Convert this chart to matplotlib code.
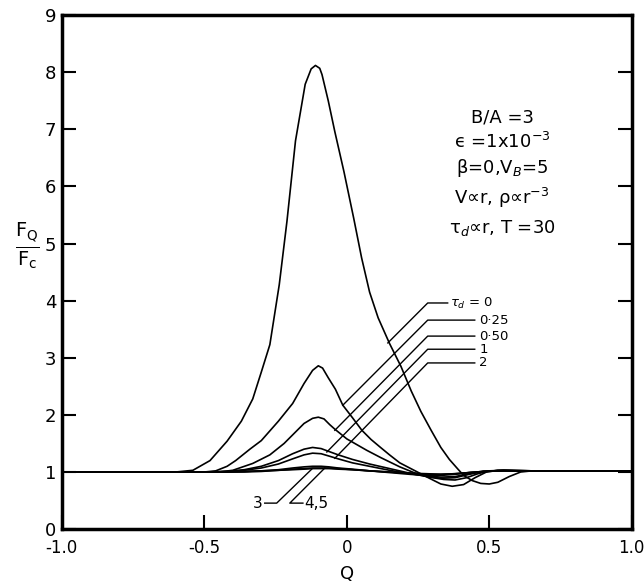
import matplotlib
matplotlib.use("Agg")
import matplotlib.pyplot as plt

# values (Q, F_Q/F_c)
q_t0 = [-1.0, -0.7, -0.6, -0.54, -0.48, -0.42, -0.37, -0.33, -0.30, -0.27, -0.237, -0.21,
        -0.18, -0.146, -0.125, -0.11, -0.095, -0.087, -0.065, -0.042, -0.01, 0.024, 0.052,
        0.08, 0.11, 0.15, 0.19, 0.226, 0.26, 0.296, 0.33, 0.36, 0.39, 0.41, 0.44, 0.47,
        0.50, 0.53, 0.57, 0.61, 0.65, 0.8, 1.0]
f_t0 = [1.0, 1.0, 1.0, 1.03, 1.2, 1.54, 1.89, 2.28, 2.75, 3.23, 4.28, 5.39,
        6.8, 7.79, 8.06, 8.12, 8.07, 7.96, 7.5, 6.96, 6.26, 5.45, 4.75,
        4.15, 3.7, 3.25, 2.85, 2.42, 2.06, 1.73, 1.43, 1.22, 1.05, 0.94, 0.85, 0.8,
        0.79, 0.82, 0.92, 1.0, 1.02, 1.02, 1.02]

q_t025 = [-1.0, -0.6, -0.5, -0.46, -0.42, -0.39, -0.34, -0.30, -0.24, -0.19, -0.15, -0.12,
          -0.10, -0.085, -0.065, -0.04, -0.014, 0.02, 0.053, 0.085, 0.116, 0.15, 0.186,
          0.24, 0.29, 0.33, 0.37, 0.41, 0.45, 0.49, 0.53, 0.6, 0.8, 1.0]
f_t025 = [1.0, 1.0, 1.0, 1.02, 1.1, 1.2, 1.4, 1.55, 1.89, 2.2, 2.55, 2.78,
          2.86, 2.82, 2.65, 2.45, 2.17, 1.95, 1.73, 1.57, 1.44, 1.3, 1.16,
          1.02, 0.89, 0.79, 0.75, 0.78, 0.9, 1.0, 1.03, 1.02, 1.02, 1.02]

q_t05 = [-1.0, -0.55, -0.45, -0.40, -0.33, -0.27, -0.22, -0.19, -0.15, -0.12, -0.10, -0.08,
         -0.06, -0.042, 0.0, 0.07, 0.12, 0.186, 0.24, 0.29, 0.34, 0.38, 0.42, 0.46, 0.5,
         0.55, 0.65, 1.0]
f_t05 = [1.0, 1.0, 1.0, 1.03, 1.15, 1.3, 1.5, 1.65, 1.85, 1.94, 1.96, 1.93,
         1.83, 1.75, 1.58, 1.38, 1.25, 1.09, 0.98, 0.91, 0.87, 0.86, 0.9, 0.97, 1.02,
         1.03, 1.02, 1.02]

q_small = [-1.0, -0.5, -0.42, -0.36, -0.3, -0.24, -0.19, -0.15, -0.12, -0.09, -0.063, -0.03,
           0.02, 0.08, 0.15, 0.22, 0.28, 0.33, 0.38, 0.43, 0.48, 0.55, 0.65, 1.0]
f_t1 = [1.0, 1.0, 1.01, 1.04, 1.1, 1.2, 1.32, 1.4, 1.43, 1.41, 1.36, 1.3,
        1.22, 1.14, 1.06, 0.98, 0.92, 0.89, 0.9, 0.96, 1.01, 1.03, 1.02, 1.02]
f_t2 = [1.0, 1.0, 1.01, 1.03, 1.07, 1.14, 1.23, 1.3, 1.33, 1.32, 1.28, 1.23,
        1.16, 1.1, 1.03, 0.97, 0.93, 0.91, 0.92, 0.97, 1.01, 1.03, 1.02, 1.02]
f_t3 = [1.0, 1.0, 1.0, 1.01, 1.02, 1.04, 1.07, 1.09, 1.1, 1.1, 1.09, 1.07,
        1.05, 1.02, 0.99, 0.96, 0.94, 0.94, 0.96, 0.99, 1.01, 1.02, 1.02, 1.02]
f_t4 = [1.0, 1.0, 1.0, 1.01, 1.02, 1.03, 1.05, 1.06, 1.07, 1.07, 1.07, 1.06,
        1.04, 1.02, 1.0, 0.98, 0.96, 0.96, 0.97, 0.99, 1.01, 1.02, 1.02, 1.02]
f_t5 = [1.0, 1.0, 1.0, 1.0, 1.01, 1.03, 1.04, 1.05, 1.06, 1.06, 1.06, 1.05,
        1.04, 1.02, 1.0, 0.98, 0.97, 0.96, 0.97, 0.99, 1.01, 1.02, 1.02, 1.02]

curves = [(q_t0, f_t0), (q_t025, f_t025), (q_t05, f_t05), (q_small, f_t1),
          (q_small, f_t2), (q_small, f_t3), (q_small, f_t4), (q_small, f_t5)]

x_ticks = [-1.0, -0.5, 0, 0.5, 1.0]
x_labels = ["-1.0", "-0.5", "0", "0.5", "1.0"]
y_ticks = list(range(10))

# label leaders: text, text pos, corner of leader, end on curve
upper_labels = [
    (r"$\tau_d$ = 0", 0.358, 3.96, 0.284, 0.354, 0.144, 3.26),
    ("0·25", 0.46, 3.66, 0.284, 0.449, -0.014, 2.17),
    ("0·50", 0.46, 3.38, 0.284, 0.449, -0.042, 1.73),
    ("1", 0.46, 3.15, 0.284, 0.449, -0.07, 1.35),
    ("2", 0.46, 2.91, 0.284, 0.449, -0.042, 1.24),
]

plt.rcParams['font.family'] = ['DejaVu Sans']
plt.rcParams['mathtext.fontset'] = 'dejavusans'

fig = plt.figure(figsize=(6.44, 5.84), dpi=100)
ax = fig.add_axes([0.096, 0.094, 0.885, 0.88])

for q, f in curves:
    ax.plot(q, f, color='black', lw=1.2)

for text, tx, ty, x0, x1, xe, ye in upper_labels:
    ax.plot([xe, x0, x1], [ye, ty, ty], color='black', lw=1.0)
    ax.text(tx + 0.005, ty, text, fontsize=9.5, va='center', ha='left')

# lower labels 3 and 4,5
ax.plot([-0.123, -0.246, -0.288], [1.05, 0.455, 0.455], color='black', lw=1.0)
ax.text(-0.296, 0.455, "3", fontsize=11, va='center', ha='right')
ax.plot([-0.077, -0.2, -0.154], [1.07, 0.455, 0.455], color='black', lw=1.0)
ax.text(-0.148, 0.455, "4,5", fontsize=11, va='center', ha='left')

block = ["B/A =3", r"ϵ =1x10$^{-3}$", r"β=0,V$_B$=5",
         r"V∝r, ρ∝r$^{-3}$", r"τ$_d$∝r, T =30"]
block_y = [7.2, 6.78, 6.33, 5.8, 5.27]
for s, yy in zip(block, block_y):
    ax.text(0.545, yy, s, fontsize=13, ha='center', va='center')

ax.set_xlim(-1.0, 1.0)
ax.set_ylim(0, 9)
ax.set_xticks(x_ticks)
ax.set_xticklabels(x_labels, fontsize=12)
ax.set_yticks(y_ticks)
ax.set_yticklabels([str(v) for v in y_ticks], fontsize=13)
ax.tick_params(direction='in', length=10, width=1.5, pad=4)
ax.tick_params(axis='x', pad=7)
ax.tick_params(axis='y', right=True)
ax.tick_params(axis='y', which='both', labelright=False)
for sp in ax.spines.values():
    sp.set_linewidth(2.5)

ax.set_xlabel("Q", fontsize=13, labelpad=6)
fig.text(0.042, 0.58, r"$\frac{\mathrm{F_Q}}{\mathrm{F_c}}$", fontsize=20,
         ha='center', va='center')

fig.savefig("out.png", dpi=100)
